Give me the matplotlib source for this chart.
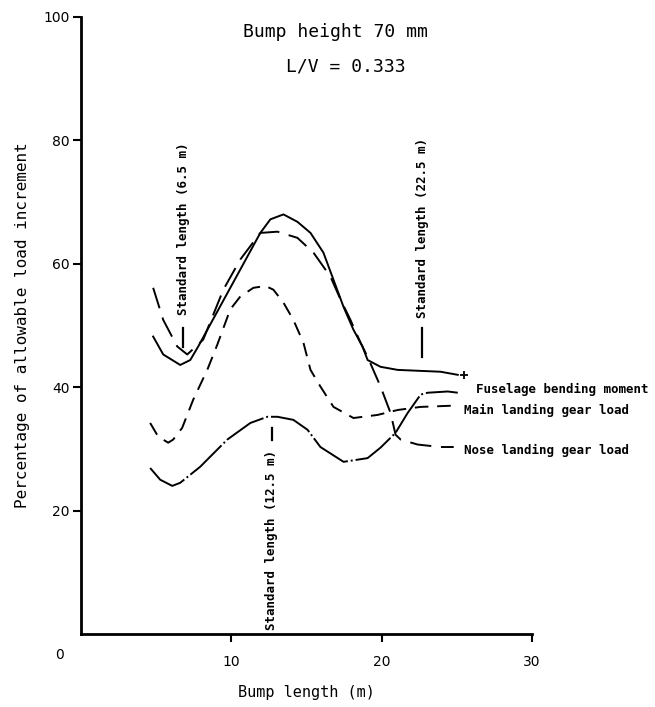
import matplotlib
matplotlib.use("Agg")
import matplotlib.pyplot as plt

# ---- data ----
fuselage_x = [4.8, 5.47, 6.6, 7.27, 7.8, 11.93, 12.6, 13.47, 14.4, 15.27, 16.13, 16.8,
              17.47, 18.13, 18.73, 19.07, 19.93, 21.07, 23.93, 25.07]
fuselage_y = [48.2, 45.3, 43.6, 44.4, 46.6, 65.0, 67.2, 68.0, 66.8, 65.0, 61.8, 57.4,
              53.0, 49.3, 46.6, 44.4, 43.3, 42.8, 42.5, 42.0]

longdash_x = [4.8, 5.47, 6.4, 7.07, 8.13, 9.47, 10.6, 11.93, 13.07, 14.4, 15.47, 16.6,
              17.27, 17.93, 18.6, 19.07, 19.93, 20.6, 20.93, 21.27, 22.4, 23.93, 24.8]
longdash_y = [56.1, 50.9, 46.6, 45.3, 47.7, 55.8, 60.7, 65.0, 65.2, 64.2, 61.8, 57.9,
              54.2, 50.9, 47.2, 44.9, 40.1, 35.8, 32.3, 31.5, 30.7, 30.3, 30.3]

main_x = [4.6, 5.13, 5.8, 6.13, 6.73, 7.47, 8.4, 9.07, 9.93, 10.6, 11.47, 12.27, 12.8,
          13.47, 14.13, 14.8, 15.27, 15.93, 16.8, 18.13, 19.73, 21.07, 22.6, 24.73]
main_y = [34.2, 32.0, 31.0, 31.5, 33.4, 38.0, 42.8, 46.9, 52.6, 54.7, 56.1, 56.4, 55.8,
          53.7, 50.9, 47.2, 42.8, 40.1, 36.8, 35.0, 35.5, 36.3, 36.8, 37.0]

nose_x = [4.6, 5.27, 6.07, 6.6, 7.93, 9.73, 11.27, 12.4, 13.07, 14.13, 15.07, 15.93,
          17.47, 19.07, 19.93, 20.93, 21.73, 22.6, 23.07, 24.4, 25.07]
nose_y = [26.9, 25.0, 24.0, 24.5, 27.1, 31.5, 34.2, 35.2, 35.2, 34.7, 33.1, 30.3,
          27.9, 28.5, 30.2, 32.6, 35.8, 38.8, 39.1, 39.3, 39.1]

end_plus_x = [25.47]
end_plus_y = [42.0]

y_ticks = [20, 40, 60, 80, 100]
x_ticks = [10, 20, 30]

series_labels = ["Fuselage bending moment", "Main landing gear load", "Nose landing gear load"]
label_x = [26.3, 25.5, 25.5]
label_y = [39.7, 36.2, 29.7]

std_texts = ["Standard length (6.5 m)", "Standard length (22.5 m)", "Standard length (12.5 m)"]

mono = "DejaVu Sans Mono"

fig = plt.figure(figsize=(6.55, 7.07), dpi=100)
ax = fig.add_axes([0.1237, 0.1033, 0.812 - 0.1237, 0.976 - 0.1033])

lw = 1.4
ax.plot(fuselage_x, fuselage_y, color="black", lw=lw, linestyle="-")
ax.plot(longdash_x, longdash_y, color="black", lw=lw, linestyle=(0, (11, 5)))
ax.plot(main_x, main_y, color="black", lw=lw, linestyle=(0, (7, 4.5)))
ax.plot(nose_x, nose_y, color="black", lw=lw, linestyle=(0, (22, 1.5, 1, 1.5)))
ax.plot(end_plus_x, end_plus_y, linestyle="none", marker="+", color="black", ms=6, mew=1.3)

ax.set_xlim(0, 30)
ax.set_ylim(0, 100)
ax.spines["top"].set_visible(False)
ax.spines["right"].set_visible(False)
ax.spines["left"].set_linewidth(2.0)
ax.spines["bottom"].set_linewidth(2.0)
ax.set_yticks(y_ticks)
ax.set_xticks(x_ticks)
ax.tick_params(axis="both", direction="out", length=6, width=1.5, labelsize=10)
ax.tick_params(axis="y", pad=2)
ax.tick_params(axis="x", pad=9)
for lab in ax.get_xticklabels() + ax.get_yticklabels():
    lab.set_fontfamily("DejaVu Sans")
ax.text(-1.4, -3.4, "0", ha="center", va="center", fontsize=10, clip_on=False)

ax.set_xlabel("Bump length (m)", fontsize=11, family=mono, labelpad=12)
ax.set_ylabel("Percentage of allowable load increment", fontsize=11.5, family=mono, labelpad=10)

ax.text(16.9, 97.5, "Bump height 70 mm", ha="center", va="center", fontsize=13, family=mono)
ax.text(17.6, 92.0, "L/V = 0.333", ha="center", va="center", fontsize=13, family=mono)

# standard length annotations
ax.text(6.8, 51.7, std_texts[0], rotation=90, ha="center", va="bottom", fontsize=9,
        family=mono, fontweight="bold")
ax.plot([6.8, 6.8], [46.5, 49.6], color="black", lw=1.6)
ax.text(22.7, 51.2, std_texts[1], rotation=90, ha="center", va="bottom", fontsize=9,
        family=mono, fontweight="bold")
ax.plot([22.7, 22.7], [44.9, 49.6], color="black", lw=1.6)
ax.text(12.7, 0.6, std_texts[2], rotation=90, ha="center", va="bottom", fontsize=9,
        family=mono, fontweight="bold")
ax.plot([12.7, 12.7], [31.5, 33.4], color="black", lw=1.6)

for t, xx, yy in zip(series_labels, label_x, label_y):
    ax.text(xx, yy, t, ha="left", va="center", fontsize=9, family=mono, fontweight="bold",
            clip_on=False)

fig.savefig("out.png", dpi=100)
